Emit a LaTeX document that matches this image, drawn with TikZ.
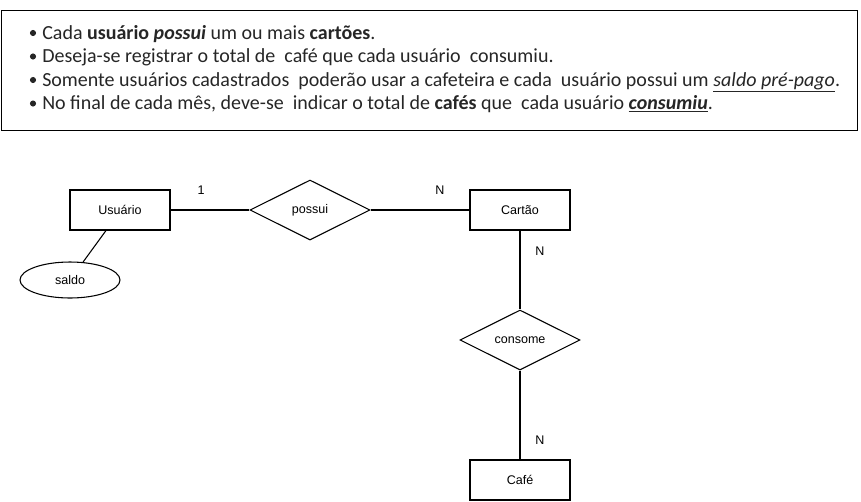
\documentclass[tikz,border=0pt]{standalone}
\usepackage{fontspec}
\setmainfont{Carlito}
\newfontfamily\arialfont{Liberation Sans}
\usetikzlibrary{shapes.geometric}
\definecolor{txt}{HTML}{262626}
\tikzset{
  dfont/.style={font=\arialfont\fontsize{9.4}{11}\selectfont},
  ent/.style={draw, line width=0.8pt, minimum width=75pt, minimum height=30pt, inner sep=0pt, dfont},
  rel/.style={draw, diamond, aspect=2, line width=0.8pt, minimum width=90pt, minimum height=45pt, inner sep=0pt, dfont},
  attr/.style={draw, ellipse, line width=0.8pt, minimum width=75pt, minimum height=27pt, inner sep=0pt, dfont},
  card/.style={dfont, inner sep=0pt},
  conn/.style={line width=0.8pt},
  bul/.style={anchor=base west, inner sep=0pt, text=txt, font=\fontsize{15}{17}\selectfont},
  dot/.style={circle, fill=txt, inner sep=0pt, minimum size=4.6pt},
}
\begin{document}
\begin{tikzpicture}[x=0.75pt,y=-0.75pt]
\useasboundingbox (0,0) rectangle (861,501);
\node[draw, line width=0.8pt, minimum width=642pt, minimum height=90pt, inner sep=0pt, anchor=north west] (box) at (1,10) {};
\node[dot] (d1) at (33,33) {};
\node[dot] (d2) at (33,56.5) {};
\node[dot] (d3) at (33,80) {};
\node[dot] (d4) at (33,103.5) {};
\node[bul] (l1) at (42,39) {Cada \textbf{usuário \textit{possui}} um ou mais \textbf{cartões}.};
\node[bul] (l2) at (42,62.5) {Deseja-se registrar o total de\ \ café que cada usuário\ \ consumiu.};
\node[bul] (l3) at (42,86) {Somente usuários cadastrados\ \ poderão usar a cafeteira e cada\ \ usuário possui um \underline{\textit{saldo pré-pago}}.};
\node[bul] (l4) at (42,109.5) {No final de cada mês, deve-se\ \ indicar o total de \textbf{cafés} que\ \ cada usuário \underline{\textbf{\textit{consumiu}}}.};

\node[ent] (usu) at (120,210) {Usuário};
\node[rel] (pos) at (310,210) {possui};
\node[ent] (car) at (520,210) {Cartão};
\node[rel] (con) at (520,340) {consome};
\node[ent] (caf) at (520,480) {Café};
\node[attr] (sal) at (70,280) {saldo};

\draw[conn] (usu) -- (pos);
\draw[conn] (pos) -- (car);
\draw[conn] (car) -- (con);
\draw[conn] (con) -- (caf);
\draw[conn] (usu.south) ++(-14,0) coordinate (us) (us) -- (sal);

\node[card] (c1) at (201,190.5) {1};
\node[card] (c2) at (440,190.5) {N};
\node[card] (c3) at (540,251.5) {N};
\node[card] (c4) at (540,440.5) {N};
\end{tikzpicture}
\end{document}
